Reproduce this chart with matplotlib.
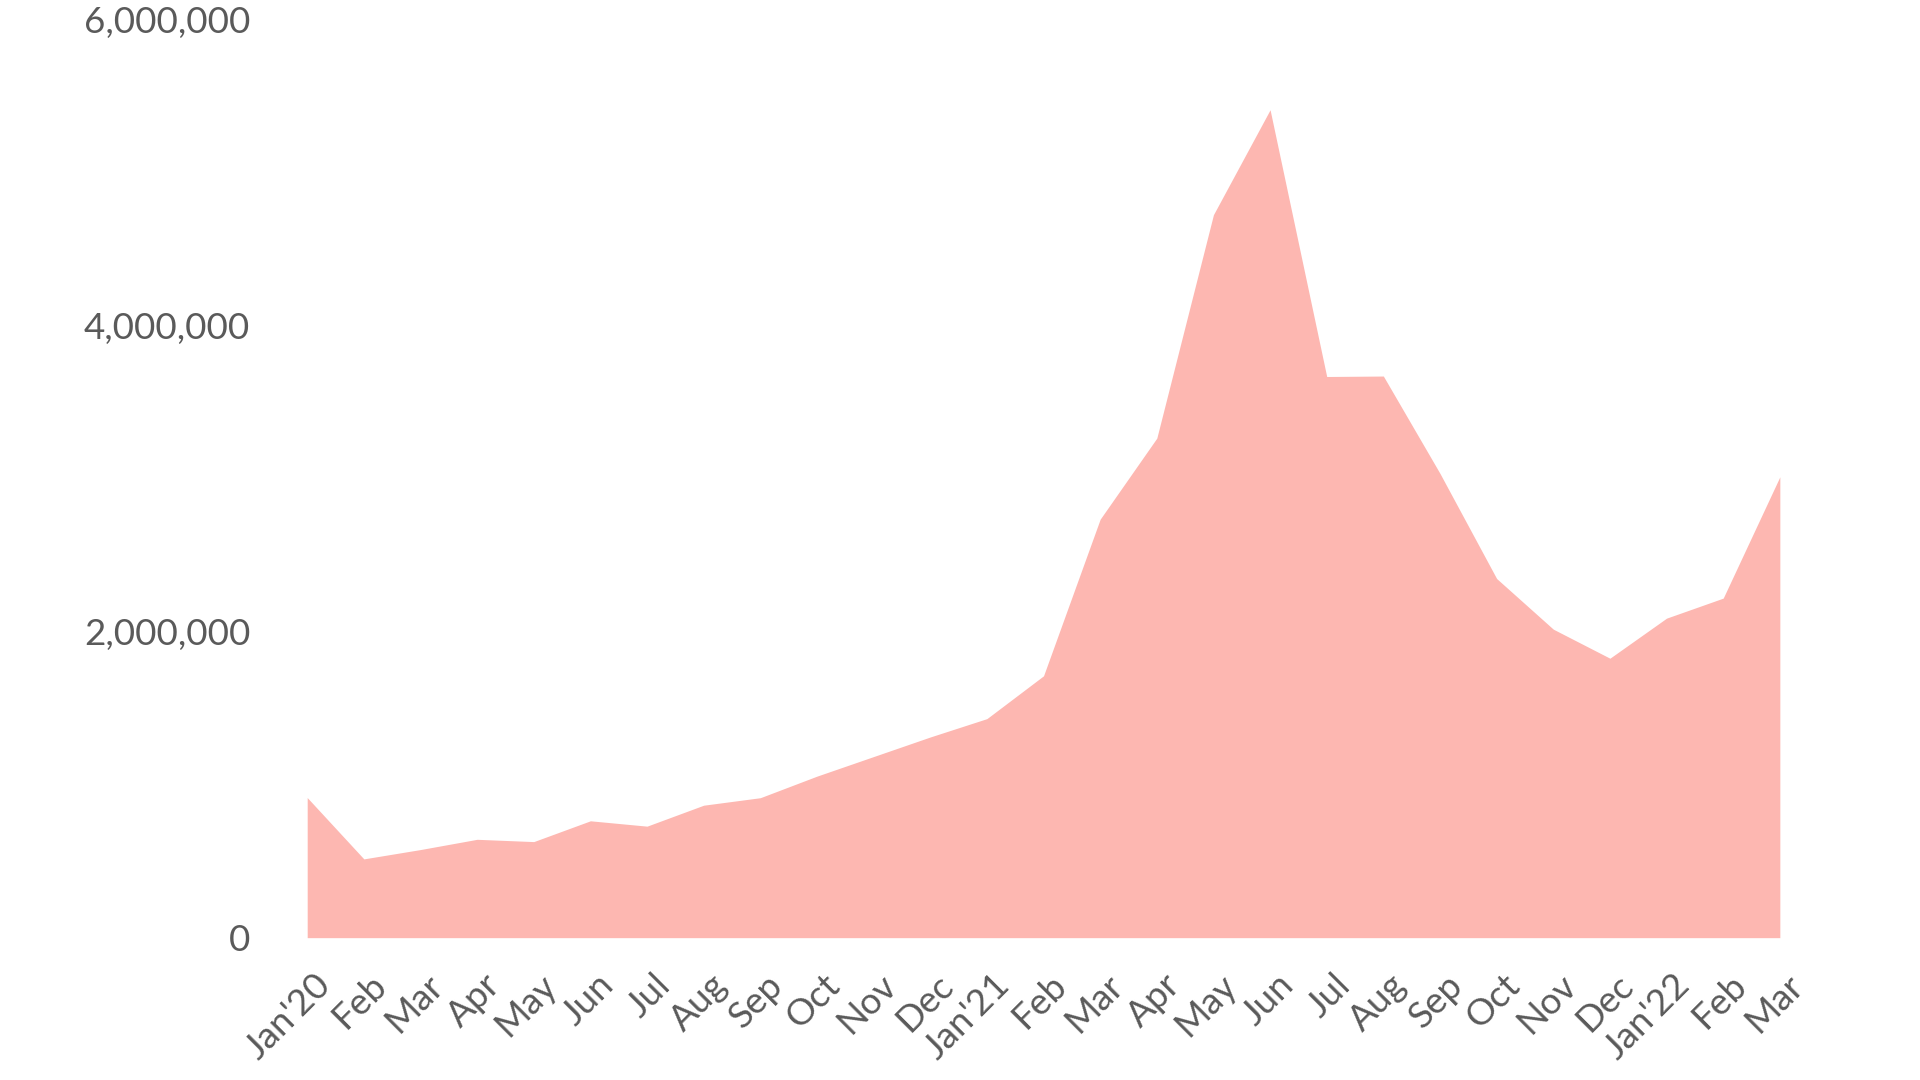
import matplotlib
matplotlib.use("Agg")
import matplotlib.pyplot as plt
import matplotlib.transforms as mtransforms
from matplotlib.ticker import FuncFormatter
import numpy as np

plt.rcParams['font.family'] = ['Lato', 'DejaVu Sans']

months = ["Jan'20", "Feb", "Mar", "Apr", "May", "Jun", "Jul", "Aug", "Sep", "Oct", "Nov", "Dec",
          "Jan'21", "Feb", "Mar", "Apr", "May", "Jun", "Jul", "Aug", "Sep", "Oct", "Nov", "Dec",
          "Jan'22", "Feb", "Mar"]
values = [916000, 515000, 576000, 643000, 628000, 764000, 729000, 866000, 915000,
          1056000, 1184000, 1312000, 1432000, 1712000, 2736000, 3266000, 4727000, 5413000,
          3669000, 3672000, 3035000, 2348000, 2017000, 1827000, 2089000, 2220000, 3013000]
y_ticks = [0, 2000000, 4000000, 6000000]

fill_color = "#fdb7b1"
text_color = "#5a5a5a"

fig = plt.figure(figsize=(19.2, 10.8), dpi=100)
ax = fig.add_axes([0.16, 0.1318, 0.767, 0.8497])

x = np.arange(len(values))
ax.fill_between(x, values, 0, color=fill_color, linewidth=0)

ax.set_xlim(0, len(values) - 1)
ax.set_ylim(0, 6000000)
ax.set_yticks(y_ticks)
ax.yaxis.set_major_formatter(FuncFormatter(lambda v, p: f"{int(v):,}"))
ax.set_xticks(x)
ax.set_xticklabels(months, rotation=45, ha="right", rotation_mode="anchor")

for s in ax.spines.values():
    s.set_visible(False)
ax.tick_params(axis="both", length=0, colors=text_color, labelsize=26.5)
ax.tick_params(axis="y", pad=41)
ax.tick_params(axis="x", pad=22)

# nudge the rotated month labels so their ends sit just right of each point
offset = mtransforms.ScaledTranslation(0.06, 0, fig.dpi_scale_trans)
for lab in ax.get_xticklabels():
    lab.set_transform(lab.get_transform() + offset)

fig.savefig("out.png", dpi=100, facecolor="white")
